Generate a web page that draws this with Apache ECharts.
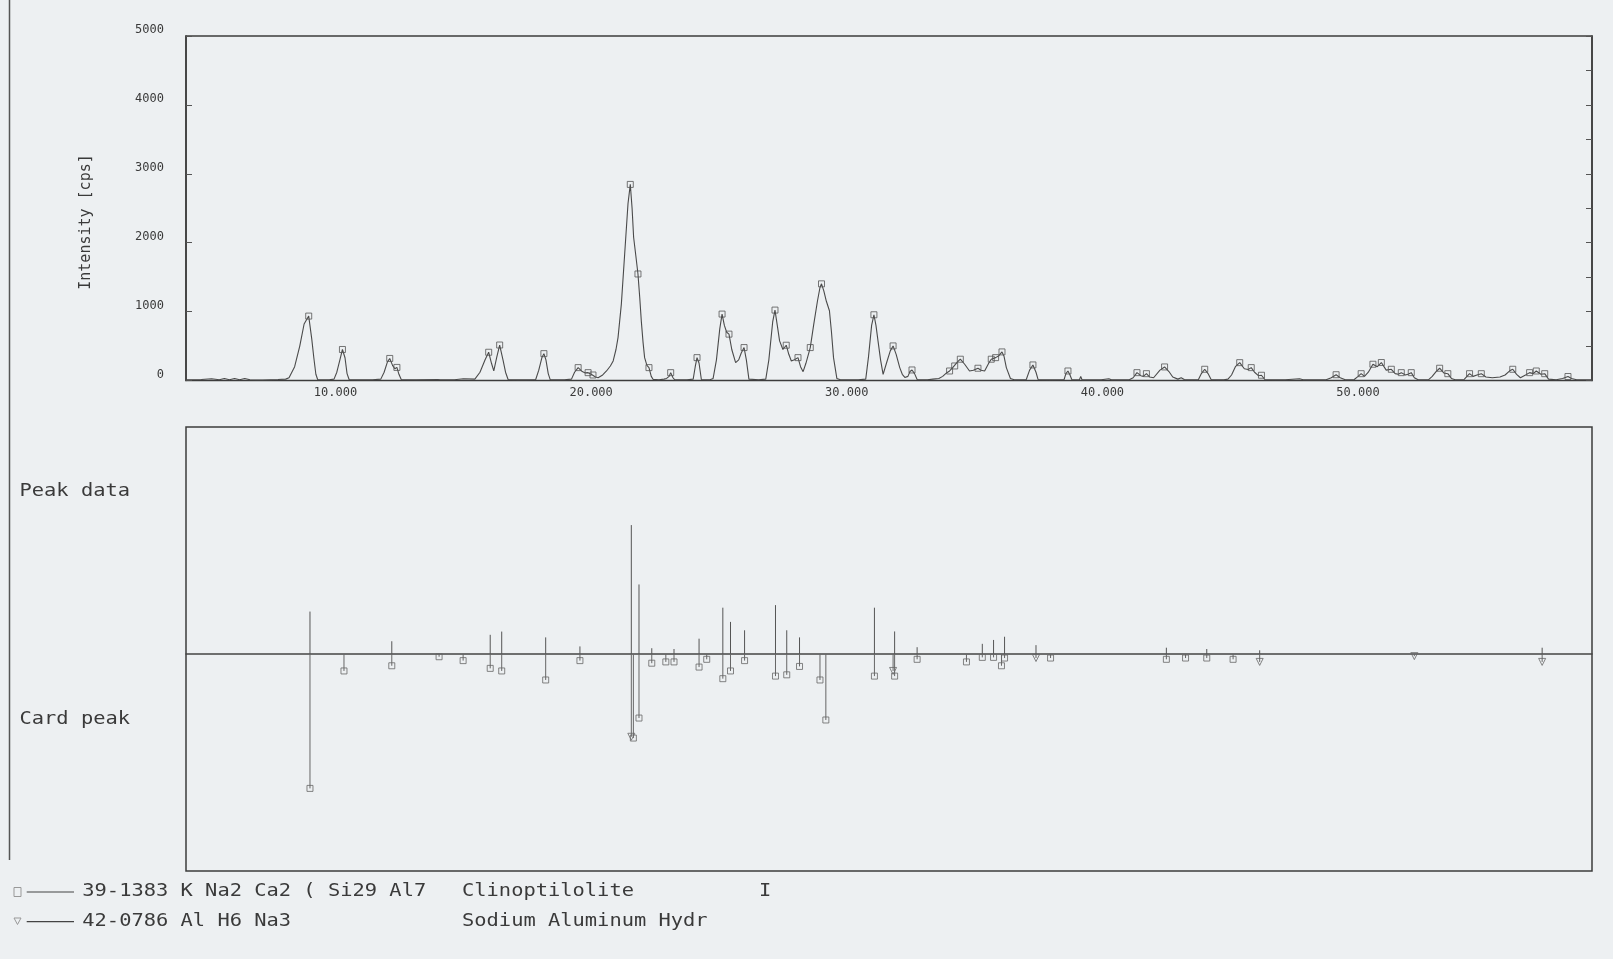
<!DOCTYPE html>
<html>
<head>
<meta charset="utf-8">
<script src="https://cdn.jsdelivr.net/npm/echarts@6.0.0/dist/echarts.min.js"></script>
<style>
  html, body { margin: 0; padding: 0; background: #edf0f2; }
  #chart { width: 1613px; height: 959px; }
</style>
</head>
<body>
<div id="chart"></div>
<script>
// Measured diffraction profile: [2theta (deg), intensity (cps)]
const profile = [
  [5.0,10],[5.6,15],[6.0,25],[6.3,10],[6.5,30],[6.7,10],[6.9,30],[7.1,10],[7.3,30],[7.5,10],[8.0,8],[8.6,15],[8.9,20],
  [9.03,40],[9.25,200],[9.45,500],[9.62,820],[9.8,935],[9.92,600],[10.0,330],[10.08,90],[10.15,15],
  [10.3,10],[10.6,10],[10.79,20],[10.9,120],[11.02,300],[11.12,450],[11.22,330],[11.3,100],[11.38,15],
  [11.8,10],[12.3,10],[12.62,20],[12.75,120],[12.88,270],[12.97,320],[13.08,220],[13.17,170],[13.25,190],[13.33,90],[13.42,15],
  [14.0,10],[14.85,15],[14.9,35],[14.95,10],[15.5,10],[15.85,25],[15.9,10],
  [16.3,20],[16.5,120],[16.7,300],[16.84,410],[16.95,250],[17.04,140],[17.15,330],[17.27,515],[17.4,300],[17.5,120],[17.6,15],
  [18.0,10],[18.68,15],[18.8,150],[18.92,330],[19.0,390],[19.08,300],[19.17,100],[19.25,10],
  [19.8,10],[20.08,20],[20.2,120],[20.34,187],[20.5,130],[20.62,110],[20.73,114],[20.85,90],[20.92,80],[21.02,50],[21.12,41],
  [21.3,80],[21.45,138],[21.6,210],[21.71,284],[21.82,450],[21.9,623],[22.03,1109],[22.16,1837],[22.29,2565],[22.38,2846],
  [22.45,2500],[22.51,2079],[22.6,1800],[22.68,1546],[22.75,1200],[22.81,866],[22.88,550],[22.94,332],[23.03,220],[23.11,187],[23.2,60],[23.27,17],
  [23.5,10],[23.7,20],[23.8,30],[23.9,60],[23.96,114],[24.05,40],[24.12,10],
  [24.6,10],[24.84,20],[24.92,200],[24.99,332],[25.07,250],[25.16,15],
  [25.5,10],[25.62,30],[25.75,300],[25.88,750],[25.97,964],[26.06,800],[26.15,700],[26.24,673],[26.35,450],[26.5,259],
  [26.62,300],[26.72,400],[26.83,478],[26.92,300],[27.02,20],
  [27.4,10],[27.68,20],[27.8,300],[27.95,850],[28.04,1022],[28.13,800],[28.22,575],[28.35,450],[28.48,512],[28.58,380],
  [28.68,284],[28.8,300],[28.94,332],[29.04,200],[29.14,128],[29.25,250],[29.42,478],[29.55,800],[29.7,1150],[29.8,1350],
  [29.86,1403],[29.95,1300],[30.05,1150],[30.17,1012],[30.25,700],[30.33,332],[30.46,30],[30.6,10],
  [31.3,10],[31.59,20],[31.7,350],[31.82,800],[31.91,954],[31.99,800],[32.07,575],[32.17,300],[32.27,90],[32.4,250],
  [32.55,430],[32.66,502],[32.78,380],[32.92,187],[33.02,90],[33.12,44],[33.24,60],[33.32,130],[33.4,153],[33.5,100],[33.6,15],
  [34.0,10],[34.22,20],[34.45,30],[34.6,60],[34.75,110],[34.87,138],[35.0,190],[35.07,211],[35.18,270],[35.29,309],
  [35.46,236],[35.65,138],[35.8,150],[35.98,178],[36.1,150],[36.24,138],[36.4,250],[36.5,309],[36.67,332],[36.8,360],
  [36.92,415],[37.0,350],[37.09,187],[37.25,30],[37.4,10],
  [37.87,15],[38.0,150],[38.13,226],[38.25,120],[38.33,15],
  [38.9,10],[39.35,15],[39.42,100],[39.5,138],[39.58,80],[39.65,15],[39.95,10],[40.0,60],[40.05,10],
  [40.8,10],[41.1,25],[41.2,10],[41.9,10],[42.05,40],[42.2,114],[42.35,70],[42.45,60],[42.57,99],[42.7,50],[42.85,40],
  [43.1,150],[43.28,197],[43.45,130],[43.6,50],[43.8,20],[43.93,40],[44.05,15],[44.6,10],[44.72,100],[44.85,163],[44.98,100],[45.1,15],
  [45.6,10],[45.76,20],[45.9,80],[46.05,200],[46.22,259],[46.4,170],[46.55,160],[46.67,187],[46.8,120],[46.95,70],[47.07,76],[47.2,15],
  [48.0,10],[48.56,25],[48.7,10],[49.6,10],[49.8,40],[49.99,84],[50.15,40],[50.35,10],[50.7,15],[50.85,60],[50.97,99],
  [51.1,60],[51.25,120],[51.43,236],[51.6,200],[51.76,261],[51.95,150],[52.15,163],[52.3,100],[52.42,90],[52.54,114],
  [52.7,80],[52.8,90],[52.93,114],[53.05,40],[53.2,10],
  [53.6,10],[53.75,60],[53.9,130],[54.04,178],[54.2,110],[54.36,99],[54.5,30],[54.65,10],
  [55.0,15],[55.21,99],[55.35,60],[55.5,80],[55.67,99],[55.85,50],[56.1,40],[56.4,50],[56.6,80],[56.78,140],[56.9,163],
  [57.05,90],[57.2,40],[57.4,80],[57.56,114],[57.7,100],[57.82,138],[58.0,90],[58.15,99],[58.3,20],[58.6,10],[58.85,30],
  [59.06,58],[59.2,30],[59.4,10],[60.0,10]
];

// Peaks found on the profile: [2theta, cps]
const peakMarks = [
  [9.8,935],[11.12,450],[12.97,320],[13.25,190],[16.84,410],[17.27,515],[19.0,390],[20.34,187],[20.73,114],[20.92,80],
  [22.38,2846],[22.68,1546],[23.11,187],[23.96,114],[24.99,332],[25.97,964],[26.24,673],[26.83,478],[28.04,1022],[28.48,512],
  [28.94,332],[29.42,478],[29.86,1403],[31.91,954],[32.66,502],[33.4,153],[34.87,138],[35.07,211],[35.29,309],[35.98,178],
  [36.5,309],[36.67,332],[36.92,415],[38.13,226],[39.5,138],[42.2,114],[42.57,99],[43.28,197],[44.85,163],[46.22,259],
  [46.67,187],[47.07,76],[49.99,84],[50.97,99],[51.43,236],[51.76,261],[52.15,163],[52.54,114],[52.93,114],[54.04,178],
  [54.36,99],[55.21,99],[55.67,99],[56.9,163],[57.56,114],[57.82,138],[58.15,99],[59.06,58]
];

// Peak data sticks: [2theta, relative intensity %]
const peakSticks = [
  [9.85,33],[13.05,10],[16.9,15],[17.35,17.5],[19.07,13],[20.41,6],[22.42,100],[22.72,54],[23.22,4.6],[24.09,4],
  [25.07,12],[26.0,36],[26.3,25],[26.85,18.5],[28.06,38],[28.5,18.5],[29.0,13],[31.93,36],[32.72,17.6],[33.6,5.4],
  [36.15,8],[36.59,11],[37.02,13.5],[38.25,7],[43.35,5],[44.93,4],[47.0,3],[58.05,5]
];

// Card 39-1383 (Clinoptilolite): [2theta, relative intensity]
const clinoCard = [
  [9.85,104],[11.18,13],[13.05,9],[14.9,2],[15.84,5],[16.9,11],[17.35,13],[19.07,20],[20.41,5],[22.5,65],
  [22.72,49.5],[23.22,7],[23.77,6],[24.09,6],[25.07,10],[25.37,4],[26.0,19],[26.3,13],[26.85,5],[28.06,17],
  [28.5,16],[29.0,9.5],[29.8,20],[30.03,51],[31.93,17],[32.72,17],[33.6,4],[35.53,6],[36.15,2.5],[36.59,2.5],
  [36.9,9],[37.02,3],[38.82,3],[43.35,4],[44.1,3],[44.93,3],[45.96,4]
];

// Card 42-0786 (Sodium Aluminum Hydride): [2theta, relative intensity]
const sahCard = [
  [22.42,64],[32.66,13],[38.25,3],[47.0,6],[53.05,1.5],[58.05,6]
];

const xTickLabels = [10, 20, 30, 40, 50];

const FONT = 'DejaVu Sans Mono';
const INK = '#3a3a3a';

function stickSeries(data, color) {
  return {
    type: 'custom',
    xAxisIndex: 1,
    yAxisIndex: 2,
    data: data,
    encode: { x: 0, y: 1 },
    silent: true,
    animation: false,
    z: 3,
    renderItem: function (params, api) {
      const x = api.value(0);
      const a = api.coord([x, 0]);
      const b = api.coord([x, api.value(1)]);
      return {
        type: 'line',
        shape: { x1: a[0], y1: a[1], x2: b[0], y2: b[1] },
        style: { stroke: color, lineWidth: 1 }
      };
    }
  };
}

const clinoDown = clinoCard.map(p => [p[0], -p[1]]);
const sahDown = sahCard.map(p => [p[0], -p[1]]);

function txt(x, y, text, size, scaleX, extra) {
  return Object.assign({
    type: 'text', x: x, y: y, scaleX: scaleX || 1, silent: true,
    style: {
      text: text, fontFamily: FONT, fontSize: size, fill: INK,
      align: 'left', verticalAlign: 'middle',
      textAlign: 'left', textVerticalAlign: 'middle'
    }
  }, extra || {});
}

const chart = echarts.init(document.getElementById('chart'), null, { renderer: 'canvas' });

chart.setOption({
  backgroundColor: '#edf0f2',
  animation: false,
  grid: [
    { left: 186, top: 36, width: 1406, height: 344.5, show: true, borderColor: '#3c3c3c', borderWidth: 1.5, backgroundColor: 'transparent' },
    { left: 186, top: 427, width: 1406, height: 444, show: true, borderColor: '#3c3c3c', borderWidth: 1.5, backgroundColor: 'transparent' }
  ],
  xAxis: [
    {
      gridIndex: 0, type: 'value', min: 5, max: 60, interval: 5,
      axisLine: { show: false }, axisTick: { show: false }, splitLine: { show: false },
      axisLabel: {
        fontFamily: FONT, fontSize: 12, color: INK, margin: 6, align: 'left',
        formatter: v => (xTickLabels.indexOf(v) >= 0 ? v.toFixed(3) : '')
      }
    },
    {
      gridIndex: 1, type: 'value', min: 5, max: 60,
      axisLine: { show: true, onZero: true, lineStyle: { color: '#444', width: 1.5 } },
      axisTick: { show: false }, axisLabel: { show: false }, splitLine: { show: false }
    }
  ],
  yAxis: [
    {
      gridIndex: 0, type: 'value', min: 0, max: 5000, interval: 1000,
      axisLine: { show: true, lineStyle: { color: '#3c3c3c', width: 1.5 } },
      axisTick: { show: true, inside: true, length: 6, lineStyle: { color: '#555' } },
      splitLine: { show: false },
      axisLabel: {
        fontFamily: FONT, fontSize: 12, color: INK, margin: 22, verticalAlign: 'bottom',
        formatter: v => String(v)
      }
    },
    {
      gridIndex: 0, type: 'value', position: 'right', min: 0, max: 5000, interval: 500,
      axisLine: { show: true, lineStyle: { color: '#3c3c3c', width: 1.5 } },
      axisTick: { show: true, inside: true, length: 6, lineStyle: { color: '#555' } },
      axisLabel: { show: false }, splitLine: { show: false }
    },
    {
      gridIndex: 1, type: 'value', min: -168, max: 176, show: false
    }
  ],
  series: [
    {
      type: 'line', xAxisIndex: 0, yAxisIndex: 0, data: profile,
      symbol: 'none', showSymbol: false,
      lineStyle: { color: '#4a4a4a', width: 1.1 }, z: 3
    },
    {
      type: 'scatter', xAxisIndex: 0, yAxisIndex: 0, data: peakMarks,
      symbol: 'rect', symbolSize: 6,
      itemStyle: { color: 'rgba(0,0,0,0)', borderColor: '#555', borderWidth: 1 }, z: 4
    },
    stickSeries(peakSticks, '#555'),
    stickSeries(clinoDown, '#666'),
    stickSeries(sahDown, '#666'),
    {
      type: 'scatter', xAxisIndex: 1, yAxisIndex: 2, data: clinoDown,
      symbol: 'rect', symbolSize: 6,
      itemStyle: { color: 'rgba(0,0,0,0)', borderColor: '#666', borderWidth: 1 }, z: 4
    },
    {
      type: 'scatter', xAxisIndex: 1, yAxisIndex: 2, data: sahDown,
      symbol: 'triangle', symbolRotate: 180, symbolSize: 7,
      itemStyle: { color: 'rgba(0,0,0,0)', borderColor: '#666', borderWidth: 1 }, z: 4
    }
  ],
  graphic: [
    { type: 'line', silent: true, shape: { x1: 9.5, y1: 0, x2: 9.5, y2: 860 }, style: { stroke: '#555', lineWidth: 1.5 } },
    txt(86, 222, 'Intensity [cps]', 15, 1, {
      rotation: Math.PI / 2,
      style: { text: 'Intensity [cps]', fontFamily: FONT, fontSize: 15, fill: INK, align: 'center', verticalAlign: 'middle', textAlign: 'center', textVerticalAlign: 'middle' }
    }),
    txt(19.5, 491.7, 'Peak data', 17, 1.2),
    txt(19.5, 720, 'Card peak', 17, 1.2),
    { type: 'rect', silent: true, shape: { x: 14, y: 887.5, width: 7, height: 9 }, style: { fill: 'none', stroke: '#999', lineWidth: 1 } },
    { type: 'line', silent: true, shape: { x1: 26.7, y1: 892, x2: 74, y2: 892 }, style: { stroke: '#444', lineWidth: 1.2 } },
    txt(82.3, 892, '39-1383 K Na2 Ca2 ( Si29 Al7', 17, 1.2),
    txt(462, 892, 'Clinoptilolite', 17, 1.2),
    txt(759, 892, 'I', 17, 1.2),
    { type: 'polygon', silent: true, shape: { points: [[14, 918], [21, 918], [17.5, 924.5]] }, style: { fill: 'none', stroke: '#999', lineWidth: 1 } },
    { type: 'line', silent: true, shape: { x1: 26.7, y1: 921.7, x2: 74, y2: 921.7 }, style: { stroke: '#444', lineWidth: 1.2 } },
    txt(82.3, 921.7, '42-0786 Al H6 Na3', 17, 1.2),
    txt(462, 921.7, 'Sodium Aluminum Hydr', 17, 1.2)
  ]
});
</script>
</body>
</html>
